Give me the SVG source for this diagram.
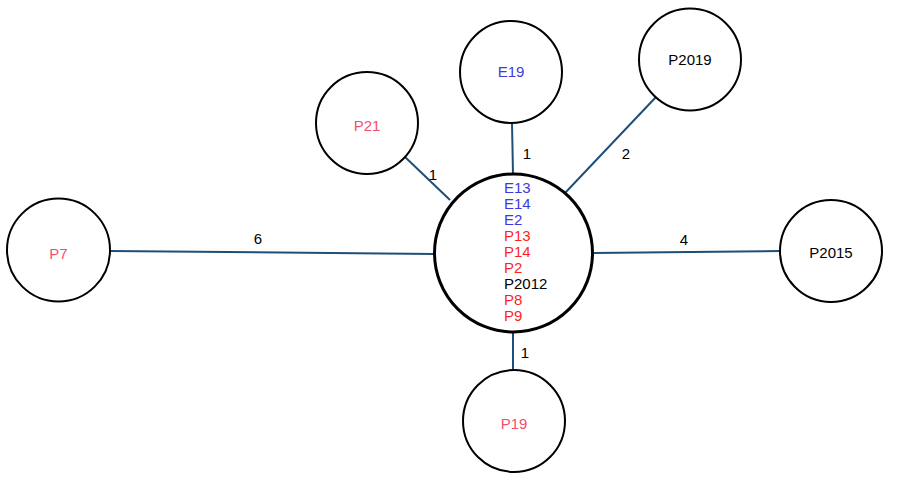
<svg xmlns="http://www.w3.org/2000/svg" width="900" height="482" viewBox="0 0 900 482">
<style>
.node{fill:#fff;stroke:#000;stroke-width:2}
.hub{fill:#fff;stroke:#000;stroke-width:3}
.edge{stroke:#1f4e79;stroke-width:2;fill:none}
text{font-family:"Liberation Sans",Arial,sans-serif;font-size:15px}
.c{text-anchor:middle}
.blue{fill:#3b3bdb}
.red{fill:#ff1f1f}
.pink{fill:#f2506a}
.blk{fill:#000}
</style>
<rect width="900" height="482" fill="#fff"/>
<g id="edges">
<line class="edge" x1="405" y1="157" x2="450" y2="200"/>
<line class="edge" x1="110" y1="251" x2="434" y2="254"/>
<line class="edge" x1="512" y1="123" x2="513" y2="174"/>
<line class="edge" x1="656" y1="97" x2="565" y2="193"/>
<line class="edge" x1="593" y1="253" x2="780" y2="251"/>
<line class="edge" x1="513" y1="332" x2="513" y2="371"/>
<text class="blk c" x="433" y="180">1</text>
<text class="blk c" x="258" y="244">6</text>
<text class="blk c" x="527" y="159">1</text>
<text class="blk c" x="626" y="159">2</text>
<text class="blk c" x="684" y="245">4</text>
<text class="blk c" x="525" y="358">1</text>
</g>
<g id="hub">
<circle class="hub" cx="513.5" cy="253" r="79"/>
<text class="blue" x="504" y="192.5">E13</text>
<text class="blue" x="504" y="208.6">E14</text>
<text class="blue" x="504" y="224.7">E2</text>
<text class="red" x="504" y="240.8">P13</text>
<text class="red" x="504" y="256.9">P14</text>
<text class="red" x="504" y="273">P2</text>
<text class="blk" x="504" y="289.1">P2012</text>
<text class="red" x="504" y="305.2">P8</text>
<text class="red" x="504" y="321.3">P9</text>
</g>
<g id="P21"><circle class="node" cx="367" cy="123" r="51"/><text class="pink c" x="367" y="131">P21</text></g>
<g id="P7"><circle class="node" cx="58.5" cy="250" r="51.5"/><text class="pink c" x="58.5" y="259">P7</text></g>
<g id="E19"><circle class="node" cx="511" cy="72" r="51"/><text class="blue c" x="511" y="77">E19</text></g>
<g id="P2019"><circle class="node" cx="690" cy="59.5" r="51"/><text class="blk c" x="690" y="65">P2019</text></g>
<g id="P2015"><circle class="node" cx="831" cy="251" r="51"/><text class="blk c" x="831" y="258">P2015</text></g>
<g id="P19"><circle class="node" cx="514" cy="421" r="51"/><text class="pink c" x="514" y="429">P19</text></g>
</svg>
